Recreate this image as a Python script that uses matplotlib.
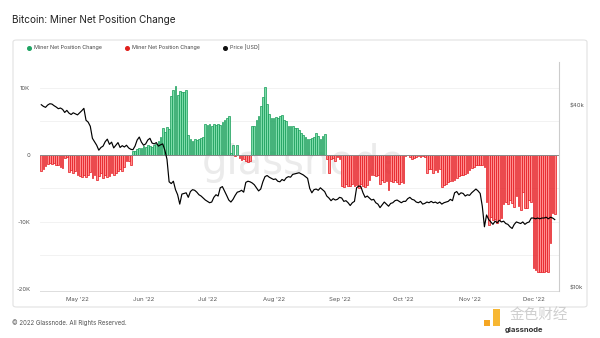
import numpy as np
import pandas as pd
import matplotlib
matplotlib.use('Agg')
import matplotlib.pyplot as plt
import matplotlib.dates as mdates
from matplotlib.patches import FancyBboxPatch, Rectangle
from matplotlib.lines import Line2D
from matplotlib.ticker import NullLocator

plt.rcParams['font.family'] = ['Inter', 'DejaVu Sans']

# daily values, starting 2022-04-14
start_date = '2022-04-14'

# miner net position change, thousands of BTC
net_change_k = [
    -2.5, -2.2, -1.7, -1.4, -1.3, -1.4, -1.3, -1.5, -1.6, -1.8, -2.0, -0.5, -0.3,
    -2.6, -2.3, -2.8, -2.4, -3.0, -3.2, -3.3, -3.0, -3.3, -3.1, -2.6, -3.4, -3.0,
    -3.8, -3.2, -2.8, -3.4, -3.0, -3.3, -3.2, -2.8, -3.0, -2.7, -2.5, -2.2, -2.4,
    -1.8, -0.9, -1.0, -1.5,
    0.5, 0.6, 0.8, 1.0, 1.0, 1.3, 1.2, 1.5, 1.3, 1.1, 1.4, 1.6, 2.0, 2.6, 4.0, 3.4,
    4.1, 3.8,
    8.8, 9.6, 10.2, 8.9, 9.5, 9.3, 9.4, 9.7,
    2.9, 2.3, 2.1, 2.3, 2.2, 2.3, 2.5, 2.7,
    4.6, 4.4, 4.5, 4.3, 4.5, 4.4, 4.6, 4.4, 4.9, 5.2, 5.4, 5.8,
    0.3, 1.4, -0.2, 1.5, -0.5, -0.8, -0.6, -1.0, -1.1, -0.9,
    4.3, 4.3, 5.2, 5.8, 7.2, 8.6,
    10.1, 7.6, 6.0, 5.5, 5.5, 5.6, 5.5, 5.7, 5.9, 5.1, 5.0, 4.3, 4.3, 4.2, 3.9,
    4.0, 3.6, 3.2, 2.9, 2.6, 2.4, 2.4, 2.5, 2.6, 3.3, 2.8, 2.4, 2.8, 3.1,
    -0.7, -2.8, -0.6, -0.5, -0.9, -0.4, -0.6,
    -4.6, -4.8, -4.4, -4.6, -4.7, -4.3, -4.6, -4.5, -4.9, -4.4, -4.6, -4.8, -4.5,
    -3.8, -3.1, -3.0, -3.2, -3.1, -4.3, -3.8, -4.0, -3.9, -5.3, -3.9, -4.0, -3.8,
    -4.0, -4.3, -4.1, -4.2,
    -0.2, -0.1, -0.4, -0.6, -0.5, -0.3, -0.2, -0.3, -0.2, -0.4,
    -2.8, -2.2, -2.1, -2.8, -2.3, -2.6, -2.2,
    -4.8, -4.5, -4.4, -4.1, -3.9, -3.9, -3.8, -3.5, -3.2, -3.0, -3.0, -2.9, -2.7,
    -2.3, -2.0, -1.9, -1.6, -1.5, -1.5, -1.6, -1.8,
    -7.0, -10.5, -9.3, -9.8, -9.6, -10.2, -9.7, -9.5, -7.3, -7.0, -7.4, -6.8,
    -7.2, -7.8, -6.2, -7.6, -8.2, -5.5, -8.0, -7.9, -6.8, -7.0,
    -16.9, -17.2, -17.4, -17.5, -17.4, -17.4, -17.3, -17.4, -13.2, -8.7, -8.9,
]

# BTC price, thousands of USD
price_k = [
    40.3, 39.8, 39.5, 40.2, 40.6, 40.5, 40.0, 39.6, 39.1, 39.3, 38.9, 38.0, 38.6,
    37.8, 37.4, 37.9, 37.6, 37.3, 37.9, 38.5, 39.2, 35.8, 35.3, 34.2, 31.2, 30.4,
    29.6, 28.5, 29.1, 29.4, 30.4, 31.0, 29.8, 30.3, 29.0, 29.6, 30.2, 29.1, 29.5,
    29.2, 29.6, 29.0, 28.7, 28.6, 29.4, 30.8, 31.5, 30.3, 29.6, 29.9, 30.8, 31.2,
    30.1, 29.9, 30.2, 29.4, 29.7, 29.9, 28.5, 26.6, 22.4, 22.1, 22.5, 21.1, 20.3,
    18.9, 20.4, 20.5, 20.6, 19.9, 20.8, 21.1, 21.0, 20.7, 20.3, 20.1, 19.8, 19.5,
    19.3, 19.1, 19.2, 19.9, 20.3, 20.1, 21.4, 21.6, 20.9, 20.2, 19.5, 19.2, 19.6,
    20.2, 20.7, 20.8, 21.0, 20.7, 22.3, 22.5, 22.4, 22.2, 21.9, 21.4, 20.9, 21.2,
    22.4, 23.3, 23.5, 23.2, 23.0, 22.8, 22.9, 22.5, 22.4, 22.8, 22.6, 23.1, 23.3,
    23.2, 23.7, 23.8, 23.9, 24.0, 23.8, 23.6, 23.3, 23.0, 21.3, 20.6, 21.1, 21.2,
    21.0, 21.4, 21.1, 20.8, 20.1, 19.8, 19.4, 19.7, 19.5, 19.6, 19.9, 19.8, 19.3,
    19.4, 19.1, 18.7, 19.1, 19.3, 21.4, 21.7, 21.6, 20.6, 19.9, 20.1, 19.8, 19.5,
    19.6, 19.1, 18.9, 18.4, 18.8, 19.2, 18.9, 18.6, 19.0, 19.1, 19.4, 19.5, 19.3,
    19.1, 19.3, 19.3, 19.7, 19.9, 19.6, 19.5, 19.2, 19.1, 19.3, 18.9, 19.0, 19.2,
    19.1, 19.3, 19.1, 19.2, 19.0, 19.2, 18.9, 19.1, 19.2, 19.3, 19.6, 19.4, 20.6,
    20.8, 20.3, 20.6, 20.5, 20.1, 20.3, 20.2, 20.6, 20.9, 21.2, 20.9, 20.5, 18.6,
    15.9, 17.4, 16.8, 16.5, 16.2, 16.6, 16.4, 16.7, 16.5, 16.6, 16.3, 16.2, 15.9,
    15.7, 16.2, 16.5, 16.4, 16.3, 16.5, 16.2, 16.4, 16.5, 17.0, 17.0, 16.9, 17.0,
    16.9, 17.0, 17.0, 17.1, 16.9, 17.1, 17.0, 16.8,
]

month_labels = ["May '22", "Jun '22", "Jul '22", "Aug '22", "Sep '22", "Oct '22", "Nov '22", "Dec '22"]
left_ticks = [-20, -10, 0, 10]
left_labels = ['-20K', '-10K', '0', '10K']
price_ticks = [10000, 40000]
price_labels = ['$10k', '$40k']

n = min(len(net_change_k), len(price_k))
dates = pd.date_range(start_date, periods=n, freq='D')
x = mdates.date2num(dates)
net = np.array(net_change_k[:n])
price = np.array(price_k[:n]) * 1000

green_edge, green_face = '#139a55', '#7ddcaa'
red_edge, red_face = '#e3141b', '#ff8e8e'

fig = plt.figure(figsize=(6, 3.38), dpi=100)
ax = fig.add_axes([40/600, 1-291/338, 519/600, 229/338])

# outer card
card = FancyBboxPatch((13/600, 1-307/338), 574/600, 267/338,
                      boxstyle='round,pad=0,rounding_size=0.006',
                      transform=fig.transFigure, fc='none', ec='#e2e2e2', lw=0.8)
fig.add_artist(card)

# faint grid
for g in [-15, -10, -5, 5, 10]:
    ax.axhline(g, color='#f0f0f0', lw=0.6, zorder=0)

ax.text(x[0] + 123, -1.2, 'glassnode', fontsize=29, color='#ebebeb',
        ha='center', va='center', zorder=0.5, family='DejaVu Sans')

pos = net >= 0
ax.bar(x[pos], net[pos], width=0.82, color=green_face, edgecolor=green_edge, lw=0.5, zorder=2)
ax.bar(x[~pos], net[~pos], width=0.82, color=red_face, edgecolor=red_edge, lw=0.5, zorder=2)
ax.axhline(0, color='#8a8a8a', lw=0.7, zorder=3)

ax.set_xlim(x[0] - 0.6, x[0] + 243)
ax.set_ylim(-20.3, 13.8)
ax.set_yticks(left_ticks)
ax.set_yticklabels(left_labels)
ticks = mdates.date2num(pd.date_range('2022-05-01', '2022-12-01', freq='MS'))
ax.set_xticks(ticks)
ax.set_xticklabels(month_labels)
ax.tick_params(axis='both', length=0, labelsize=4.3, colors='#555555')
ax.tick_params(axis='y', pad=7)
ax.tick_params(axis='x', pad=4)
for s in ['top', 'left', 'right']:
    ax.spines[s].set_visible(False)
ax.spines['bottom'].set_color('#dddddd')
ax.spines['bottom'].set_linewidth(0.7)

ax2 = ax.twinx()
ax2.plot(x, price, color='black', lw=0.85, zorder=4)
ax2.set_yscale('log')
ax2.set_ylim(9750, 55800)
ax2.set_yticks(price_ticks)
ax2.set_yticklabels(price_labels)
ax2.yaxis.set_minor_locator(NullLocator())
ax2.tick_params(axis='y', length=0, labelsize=4.3, colors='#555555', pad=8)
for s in ['top', 'left', 'bottom']:
    ax2.spines[s].set_visible(False)
ax2.spines['right'].set_color('#cccccc')
ax2.spines['right'].set_linewidth(0.8)

fig.text(12/600, 1-20/338, 'Bitcoin: Miner Net Position Change', fontsize=7.2,
         color='#222222', va='center', ha='left')
fig.text(12/600, 1-323/338, '\u00a9 2022 Glassnode. All Rights Reserved.', fontsize=4.4,
         color='#555555', va='center', ha='left')

# legend
ly = 1 - 48/338
for lx, c, label in [(29, '#1fa463', 'Miner Net Position Change'),
                     (127, '#e0201c', 'Miner Net Position Change'),
                     (225, '#111111', 'Price [USD]')]:
    fig.add_artist(Line2D([lx/600], [ly], marker='o', ms=2.6, color=c, lw=0,
                          transform=fig.transFigure))
    fig.text((lx + 4.5)/600, ly, label, fontsize=3.9, color='#444444', va='center', ha='left')

# source watermark, bottom right
fig.add_artist(Rectangle((484/600, 1-326/338), 6/600, 6/338, transform=fig.transFigure,
                         fc='#f5a623', ec='none'))
fig.add_artist(Rectangle((493/600, 1-326/338), 7/600, 17/338, transform=fig.transFigure,
                         fc='#f7b733', ec='none'))
fig.text(510/600, 1-315/338, '金色财经', fontsize=10.5, color='#cfcfcf',
         va='center', ha='left', family=['Noto Sans CJK SC', 'DejaVu Sans'])
fig.text(505/600, 1-330/338, 'glassnode', fontsize=5.5, color='#333333', va='center',
         ha='left', weight='bold')

fig.savefig('out.png', dpi=100)
